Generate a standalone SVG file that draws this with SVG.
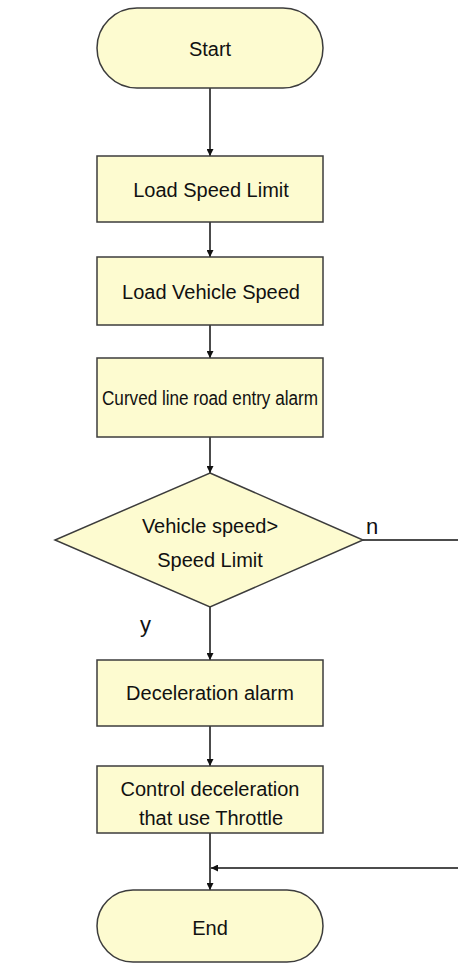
<svg xmlns="http://www.w3.org/2000/svg" width="458" height="968" viewBox="0 0 458 968">
  <style>
    .shape { fill: #fdfbd0; stroke: #3c3c3c; stroke-width: 1.5; }
    .edge { fill: none; stroke: #111; stroke-width: 1.5; }
    .label { font-family: "Liberation Sans", Arial, sans-serif; font-size: 20px; fill: #111; text-anchor: middle; }
    .tag { font-family: "Liberation Sans", Arial, sans-serif; font-size: 22px; fill: #111; }
  </style>
  <defs>
    <marker id="arrow" viewBox="0 0 10 10" refX="10" refY="5" markerWidth="8" markerHeight="7" markerUnits="userSpaceOnUse" orient="auto">
      <path d="M0,0 L10,5 L0,10 z" fill="#111"/>
    </marker>
  </defs>
  <rect width="458" height="968" fill="#ffffff"/>

  <g id="connectors">
    <line class="edge" x1="210" y1="88" x2="210" y2="156" marker-end="url(#arrow)"/>
    <line class="edge" x1="210" y1="222" x2="210" y2="257" marker-end="url(#arrow)"/>
    <line class="edge" x1="210" y1="325" x2="210" y2="358" marker-end="url(#arrow)"/>
    <line class="edge" x1="210" y1="437" x2="210" y2="473" marker-end="url(#arrow)"/>
    <line class="edge" x1="210" y1="607" x2="210" y2="660" marker-end="url(#arrow)"/>
    <line class="edge" x1="210" y1="726" x2="210" y2="766" marker-end="url(#arrow)"/>
    <line class="edge" x1="210" y1="833" x2="210" y2="890" marker-end="url(#arrow)"/>
    <line class="edge" x1="363" y1="540" x2="458" y2="540"/>
    <line class="edge" x1="458" y1="868" x2="211" y2="868" marker-end="url(#arrow)"/>
  </g>

  <g id="start">
    <rect class="shape" x="97" y="8" width="226" height="80" rx="40" ry="40"/>
    <text class="label" x="210" y="56">Start</text>
  </g>
  <g id="load-speed-limit">
    <rect class="shape" x="97" y="156" width="226" height="66"/>
    <text class="label" x="211" y="197">Load Speed Limit</text>
  </g>
  <g id="load-vehicle-speed">
    <rect class="shape" x="97" y="257" width="226" height="68"/>
    <text class="label" x="211" y="299">Load Vehicle Speed</text>
  </g>
  <g id="curve-alarm">
    <rect class="shape" x="97" y="358" width="226" height="79"/>
    <text class="label" x="210" y="405" textLength="216" lengthAdjust="spacingAndGlyphs">Curved line road entry alarm</text>
  </g>
  <g id="speed-check">
    <polygon class="shape" points="210,473 363,540 210,607 55,540"/>
    <text class="label" x="210" y="533">Vehicle speed&gt;</text>
    <text class="label" x="210" y="567">Speed Limit</text>
    <text class="tag" x="366" y="534">n</text>
    <text class="tag" x="140" y="632">y</text>
  </g>
  <g id="decel-alarm">
    <rect class="shape" x="97" y="660" width="226" height="66"/>
    <text class="label" x="210" y="700">Deceleration alarm</text>
  </g>
  <g id="throttle-control">
    <rect class="shape" x="97" y="766" width="226" height="67"/>
    <text class="label" x="210" y="796">Control deceleration</text>
    <text class="label" x="211" y="825">that use Throttle</text>
  </g>
  <g id="end">
    <rect class="shape" x="97" y="890" width="226" height="72" rx="36" ry="36"/>
    <text class="label" x="210" y="935">End</text>
  </g>
</svg>
